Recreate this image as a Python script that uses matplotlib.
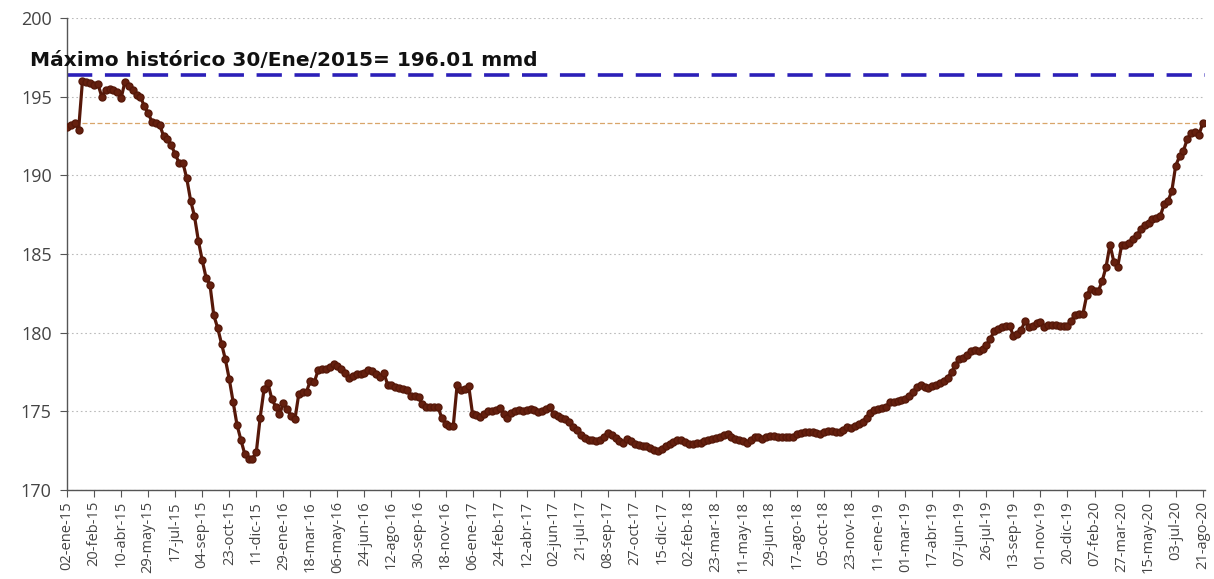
import numpy as np
import matplotlib
matplotlib.use("Agg")
import matplotlib.pyplot as plt

# weekly values, 02-ene-15 .. 21-ago-20
valores = [
    193.1, 193.2, 193.3, 192.9, 196.01, 195.95, 195.85, 195.75, 195.8, 195.0,
    195.45, 195.5, 195.4, 195.3, 194.9, 195.95, 195.65, 195.4, 195.1, 195.0,
    194.4, 193.95, 193.4, 193.3, 193.2, 192.5, 192.3, 191.9, 191.35, 190.8,
    190.8, 189.8, 188.4, 187.4, 185.85, 184.6, 183.5, 183.05, 181.1, 180.3,
    179.3, 178.3, 177.05, 175.6, 174.15, 173.2, 172.3, 171.95, 172.0, 172.4,
    174.6, 176.4, 176.8, 175.8, 175.3, 174.8, 175.5, 175.15, 174.7, 174.5,
    176.1, 176.2, 176.25, 176.95, 176.85, 177.6, 177.7, 177.7, 177.8, 178.0,
    177.9, 177.7, 177.45, 177.1, 177.25, 177.4, 177.35, 177.45, 177.65, 177.55,
    177.35, 177.2, 177.45, 176.7, 176.7, 176.55, 176.5, 176.4, 176.35, 176.0,
    176.0, 175.9, 175.45, 175.3, 175.25, 175.25, 175.3, 174.6, 174.2, 174.1,
    174.1, 176.7, 176.35, 176.4, 176.6, 174.8, 174.75, 174.65, 174.85, 175.0,
    175.0, 175.1, 175.2, 174.8, 174.6, 174.9, 175.05, 175.1, 175.05, 175.1,
    175.15, 175.1, 174.95, 175.0, 175.15, 175.25, 174.8, 174.7, 174.6, 174.5,
    174.3, 174.0, 173.8, 173.5, 173.3, 173.2, 173.15, 173.1, 173.15, 173.4,
    173.65, 173.5, 173.3, 173.1, 173.0, 173.25, 173.1, 172.9, 172.85, 172.8,
    172.8, 172.7, 172.55, 172.5, 172.6, 172.8, 172.95, 173.05, 173.15, 173.2,
    173.05, 172.95, 172.9, 173.0, 173.0, 173.1, 173.15, 173.25, 173.3, 173.4,
    173.5, 173.55, 173.35, 173.25, 173.2, 173.1, 173.0, 173.15, 173.35, 173.4,
    173.25, 173.35, 173.45, 173.45, 173.4, 173.35, 173.35, 173.4, 173.4, 173.55,
    173.65, 173.7, 173.7, 173.7, 173.65, 173.55, 173.7, 173.75, 173.75, 173.7,
    173.7, 173.8, 174.0, 173.95, 174.05, 174.2, 174.35, 174.6, 174.9, 175.1,
    175.15, 175.2, 175.25, 175.6, 175.6, 175.65, 175.7, 175.8, 175.95, 176.2,
    176.55, 176.7, 176.55, 176.5, 176.6, 176.65, 176.8, 176.95, 177.15, 177.5,
    177.95, 178.3, 178.4, 178.55, 178.85, 178.9, 178.85, 178.95, 179.2, 179.6,
    180.1, 180.25, 180.35, 180.4, 180.45, 179.8, 179.9, 180.15, 180.75, 180.35,
    180.45, 180.6, 180.65, 180.35, 180.5, 180.5, 180.5, 180.45, 180.4, 180.45,
    180.75, 181.15, 181.2, 181.2, 182.4, 182.8, 182.65, 182.65, 183.3, 184.2,
    185.6, 184.5, 184.2, 185.55, 185.6, 185.7, 185.95, 186.2, 186.6, 186.85,
    187.0, 187.2, 187.3, 187.4, 188.15, 188.35, 189.0, 190.6, 191.2, 191.55,
    192.3, 192.7, 192.75, 192.55, 193.3,
]

etiquetas = [
    "02-ene-15", "20-feb-15", "10-abr-15", "29-may-15", "17-jul-15", "04-sep-15",
    "23-oct-15", "11-dic-15", "29-ene-16", "18-mar-16", "06-may-16", "24-jun-16",
    "12-ago-16", "30-sep-16", "18-nov-16", "06-ene-17", "24-feb-17", "12-abr-17",
    "02-jun-17", "21-jul-17", "08-sep-17", "27-oct-17", "15-dic-17", "02-feb-18",
    "23-mar-18", "11-may-18", "29-jun-18", "17-ago-18", "05-oct-18", "23-nov-18",
    "11-ene-19", "01-mar-19", "17-abr-19", "07-jun-19", "26-jul-19", "13-sep-19",
    "01-nov-19", "20-dic-19", "07-feb-20", "27-mar-20", "15-may-20", "03-jul-20",
    "21-ago-20",
]

maximo_linea = 196.35   # blue dashed reference (drawn level)
ultimo_valor = valores[-1]
titulo = "Máximo histórico 30/Ene/2015= 196.01 mmd"

x = np.arange(len(valores))

fig = plt.figure(figsize=(12.14, 5.79), dpi=100)
ax = fig.add_axes([0.0552, 0.1537, 0.9374, 0.8152])

ax.axhline(maximo_linea, color="#2B1FB8", lw=2.6, ls=(0, (7, 3.5)), zorder=2)
ax.axhline(ultimo_valor, color="#D9A66A", lw=0.9, ls=(0, (4, 2)), zorder=2)

ax.plot(x, valores, color="#561809", lw=2.3, marker="o", markersize=5,
        markerfacecolor="#65200F", markeredgecolor="#561809", zorder=3)

ax.set_ylim(170, 200)
ax.set_xlim(0, 294.6)
ax.set_yticks(range(170, 201, 5))
ax.set_xticks(x[::7])
ax.set_xticklabels(etiquetas, rotation=90)

ax.yaxis.grid(True, color="#BBBBBB", ls=(0, (1.5, 2.5)), lw=0.8)
ax.set_axisbelow(True)
for s in ["top", "right"]:
    ax.spines[s].set_visible(False)
for s in ["left", "bottom"]:
    ax.spines[s].set_color("#555555")
    ax.spines[s].set_linewidth(1.0)

ax.tick_params(axis="y", labelsize=13, colors="#555555", labelcolor="#444444",
               length=5, pad=6)
ax.tick_params(axis="x", labelsize=10.5, colors="#555555", labelcolor="#444444",
               length=5, pad=3)
for lab in ax.get_xticklabels() + ax.get_yticklabels():
    lab.set_family("Open Sans")

fig.text(30 / 1214, 1 - 60 / 579, titulo, fontsize=14.5, fontweight="bold",
         family="DejaVu Sans", color="#111111", va="center", ha="left")

fig.savefig("out.png", dpi=100)
